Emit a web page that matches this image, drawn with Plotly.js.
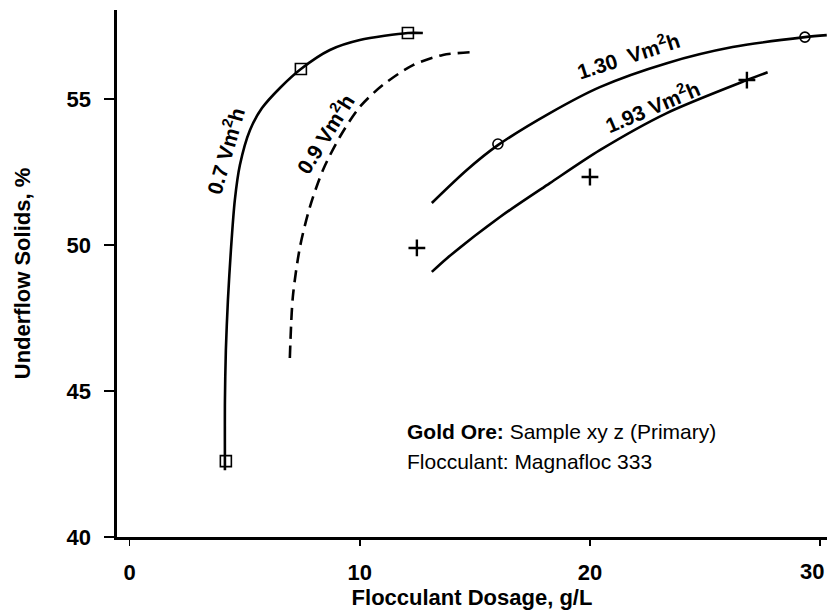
<!DOCTYPE html>
<html>
<head>
<meta charset="utf-8">
<script src="https://cdn.plot.ly/plotly-3.0.1.min.js"></script>
<style>html,body{margin:0;padding:0;background:#fff;}#chart{width:827px;height:613px;}</style>
</head>
<body>
<div id="chart"></div>
<script>
// Curve 0.7 Vm2h (solid)
const c07x = [4.14, 4.14, 4.18, 4.27, 4.40, 4.57, 4.79, 5.23, 5.75, 6.53, 7.44, 8.70, 10.0, 12.09, 12.74];
const c07y = [42.29, 44.69, 46.40, 48.12, 49.83, 51.54, 52.74, 53.94, 54.69, 55.38, 56.03, 56.68, 57.02, 57.26, 57.26];
const m07x = [4.18, 7.44, 12.09];
const m07y = [42.6, 56.03, 57.26];
// Curve 0.9 Vm2h (dashed)
const c09x = [6.96, 7.09, 7.40, 7.83, 8.40, 9.13, 10.0, 11.0, 12.31, 13.61, 15.0];
const c09y = [46.13, 48.22, 49.93, 51.30, 52.57, 53.70, 54.73, 55.48, 56.16, 56.51, 56.61];
// Curve 1.30 Vm2h
const c130x = [13.13, 14.65, 16.0, 18.26, 20.43, 23.34, 26.20, 29.34, 30.29];
const c130y = [51.44, 52.57, 53.42, 54.52, 55.41, 56.23, 56.78, 57.12, 57.19];
const m130x = [16.0, 29.34];
const m130y = [53.46, 57.12];
// Curve 1.93 Vm2h
const c193x = [13.13, 13.79, 16.09, 18.26, 20.43, 23.34, 26.82, 27.72];
const c193y = [49.08, 49.55, 50.96, 52.12, 53.25, 54.52, 55.65, 55.92];
const m193x = [12.48, 20.0, 26.82];
const m193y = [49.90, 52.33, 55.65];

const xTicks = [0, 10, 20, 30];
const xTickText = ["0", "10", "20", ""];   // "30" drawn as an edge-aligned label below
const lastXLabel = "30";
const yTicks = [40, 45, 50, 55];

const curveLabels = ["0.7 Vm<sup>2</sup>h", "0.9 Vm<sup>2</sup>h", "1.30  Vm<sup>2</sup>h", "1.93 Vm<sup>2</sup>h"];
const labelX = [4.14, 8.48, 21.65, 22.69];
const labelY = [53.25, 53.84, 56.51, 54.76];
const labelAngle = [-74, -58, -18, -23];

const FONT = "Liberation Sans, Arial, Helvetica, sans-serif";
const lineStyle = {color: "#000", width: 2.6, shape: "spline", smoothing: 0.8};

const traces = [
  {x: c07x, y: c07y, mode: "lines", line: lineStyle},
  {x: c09x, y: c09y, mode: "lines", line: Object.assign({}, lineStyle, {dash: "12px,7px"})},
  {x: c130x, y: c130y, mode: "lines", line: lineStyle},
  {x: c193x, y: c193y, mode: "lines", line: lineStyle},
  {x: m07x, y: m07y, mode: "markers", marker: {symbol: "square-open", size: 11, color: "#000", line: {width: 1.6}}},
  {x: m130x, y: m130y, mode: "markers", marker: {symbol: "circle-open", size: 10, color: "#000", line: {width: 1.6}}},
  {x: m193x, y: m193y, mode: "markers", marker: {symbol: "cross-thin-open", size: 12, color: "#000", line: {width: 2.4, color: "#000"}}}
];

const annotations = curveLabels.map((t, i) => ({
  x: labelX[i], y: labelY[i], xref: "x", yref: "y", text: t, showarrow: false,
  textangle: labelAngle[i], font: {family: FONT, size: 21, color: "#000", weight: "bold"}
}));
annotations.push({
  x: 11.96, y: 43.6, xref: "x", yref: "y", xanchor: "left", yanchor: "middle",
  text: "<b>Gold Ore:</b> Sample xy z (Primary)", showarrow: false,
  font: {family: FONT, size: 21, color: "#000"}
});
annotations.push({
  x: 11.96, y: 42.57, xref: "x", yref: "y", xanchor: "left", yanchor: "middle",
  text: "Flocculant: Magnafloc 333", showarrow: false,
  font: {family: FONT, size: 21, color: "#000"}
});
annotations.push({
  x: 1, y: 0, xref: "paper", yref: "paper", xanchor: "right", yanchor: "top",
  xshift: -1, yshift: -20, text: lastXLabel, showarrow: false,
  font: {family: FONT, size: 22, color: "#000", weight: "bold"}
});

const layout = {
  width: 827, height: 613,
  margin: {l: 117, r: 0, t: 10, b: 76},
  paper_bgcolor: "#fff", plot_bgcolor: "#fff",
  showlegend: false,
  font: {family: FONT, color: "#000"},
  xaxis: {
    range: [-0.55, 30.3], tickvals: xTicks, ticktext: xTickText,
    showgrid: false, zeroline: false, showline: true, linecolor: "#000", linewidth: 2.6,
    ticks: "outside", ticklen: 6, tickwidth: 1.5, tickcolor: "#000",
    ticklabelstandoff: 8,
    tickfont: {family: FONT, size: 22, color: "#000", weight: "bold"},
    title: {text: "Flocculant Dosage, g/L", font: {family: FONT, size: 22, color: "#000", weight: "bold"}, standoff: 2}
  },
  yaxis: {
    range: [40, 58.05], tickvals: yTicks, ticktext: yTicks.map(String),
    showgrid: false, zeroline: false, showline: true, linecolor: "#000", linewidth: 2.6,
    ticks: "outside", ticklen: 10, tickwidth: 1.5, tickcolor: "#000",
    ticklabelstandoff: 9,
    tickfont: {family: FONT, size: 22, color: "#000", weight: "bold"},
    title: {text: "Underflow Solids, %", font: {family: FONT, size: 22, color: "#000", weight: "bold"}, standoff: 30}
  },
  annotations: annotations
};

Plotly.newPlot("chart", traces, layout, {displayModeBar: false, staticPlot: true});
</script>
</body>
</html>
